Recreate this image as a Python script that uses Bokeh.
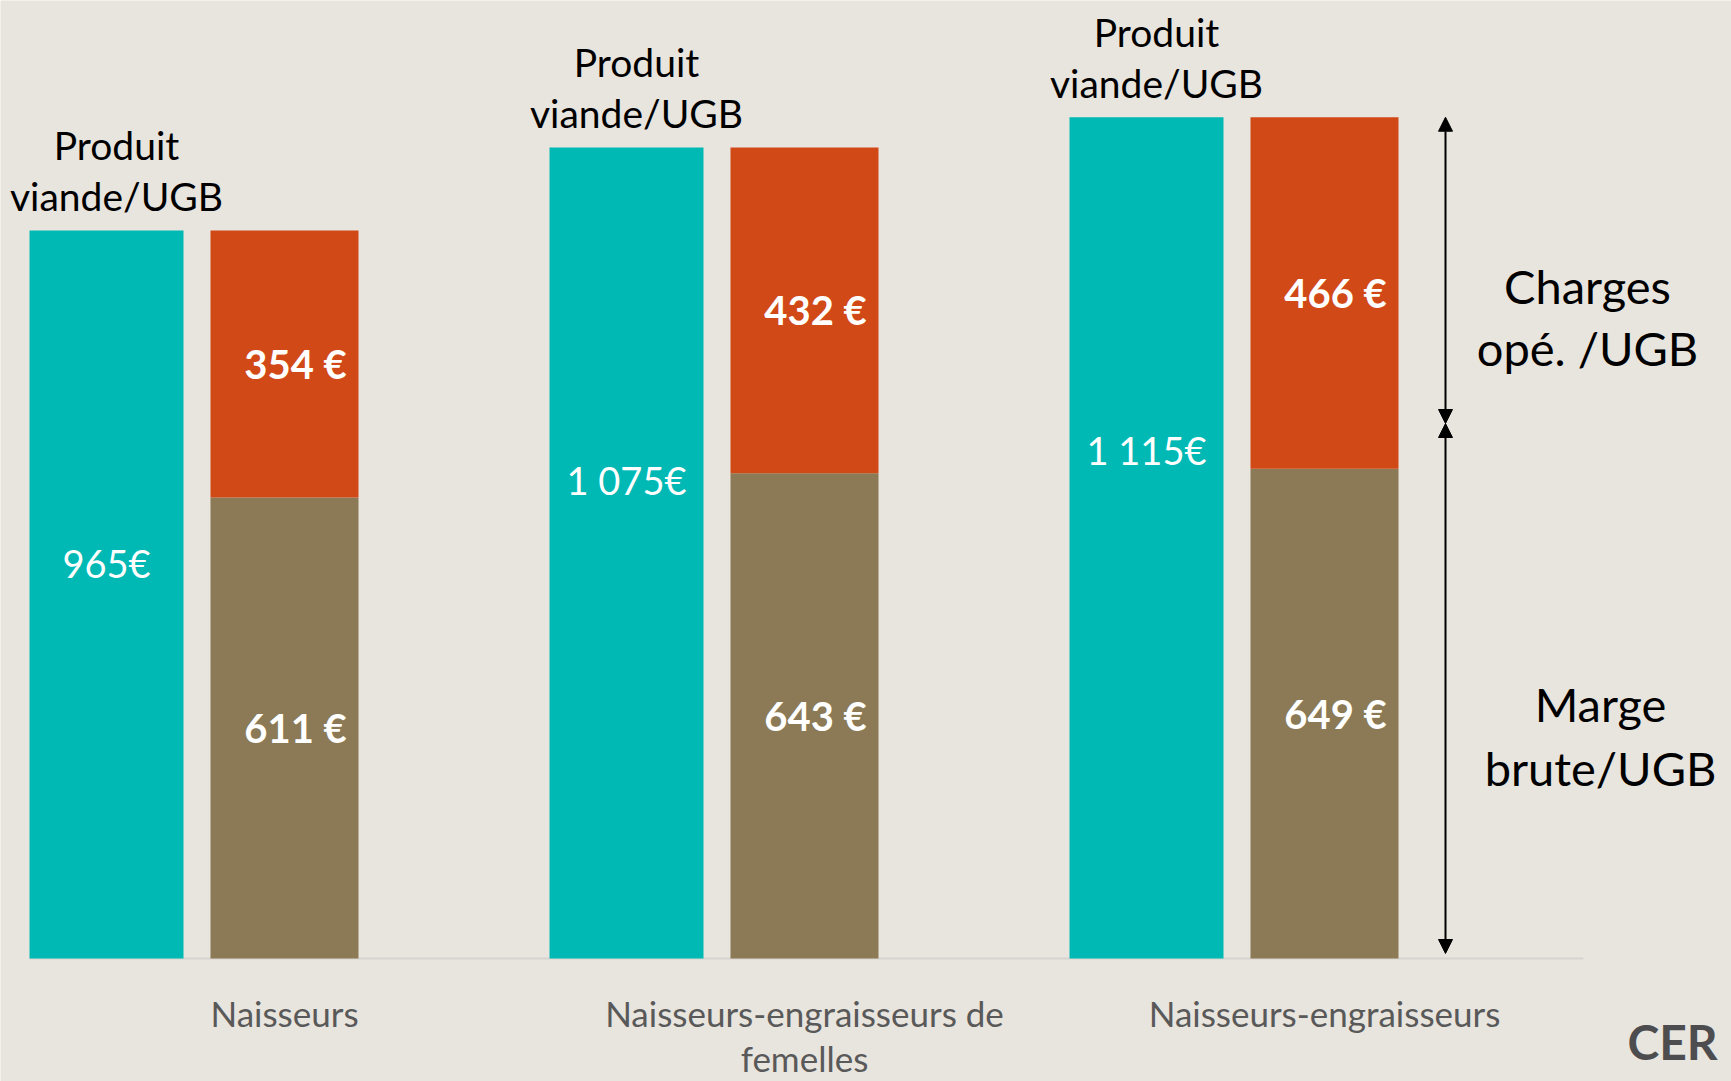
from bokeh.plotting import figure
from bokeh.models import Range1d, Arrow, NormalHead, ColumnDataSource
from bokeh.core.properties import value
from bokeh.embed import file_html
from bokeh.resources import INLINE

# ---------------- data ----------------
categories = ["Naisseurs", "Naisseurs-engraisseurs de femelles", "Naisseurs-engraisseurs"]
category_lines = [["Naisseurs"], ["Naisseurs-engraisseurs de", "femelles"], ["Naisseurs-engraisseurs"]]
produit_viande = [965, 1075, 1115]
marge_brute = [611, 643, 649]
charges_ope = [354, 432, 466]
produit_labels = ["965€", "1 075€", "1 115€"]
marge_labels = ["611 €", "643 €", "649 €"]
charges_labels = ["354 €", "432 €", "466 €"]
produit_title = ["Produit", "viande/UGB"]
charges_title = ["Charges", "opé. /UGB"]
marge_title = ["Marge", "brute/UGB"]
logo_text = "CER"

# ---------------- layout ----------------
W, H = 1731, 1081
PX_X = 520.0      # pixels per group
PX_Y = 0.7545     # pixels per euro
def dx(px): return px / PX_X
def dy(px): return px / PX_Y

x_start = -dx(106)
x_end = x_start + dx(W)
y_end = dy(958)
y_start = y_end - dy(H)

BG = "#E8E4DE"
TEAL = "#00B9B4"
RED = "#D24918"
BROWN = "#8B7A55"
FONT = value("Lato")

p = figure(width=W, height=H, output_backend="svg", toolbar_location=None,
           x_range=Range1d(x_start, x_end), y_range=Range1d(y_start, y_end),
           min_border=0, min_border_left=0, min_border_right=0,
           min_border_top=0, min_border_bottom=0)
p.axis.visible = False
p.grid.visible = False
p.outline_line_color = None
p.background_fill_color = BG
p.border_fill_color = BG

n = len(categories)
teal_x = [i for i in range(n)]
right_x = [i + dx(178) for i in range(n)]
stack_top = [m + c for m, c in zip(marge_brute, charges_ope)]

# baseline (category axis line)
p.line(x=[teal_x[0] - dx(77), right_x[-1] + dx(259)], y=[0, 0], line_color="#D6D4D0", line_width=2)

src = ColumnDataSource(dict(
    tx=teal_x, rx=right_x, produit=produit_viande, marge=marge_brute,
    charges=charges_ope, top=stack_top,
))
p.vbar(x="tx", top="produit", bottom=0, width=dx(154), source=src, fill_color=TEAL, line_color=None)
p.vbar(x="rx", top="marge", bottom=0, width=dx(148), source=src, fill_color=BROWN, line_color=None)
p.vbar(x="rx", top="top", bottom="marge", width=dx(148), source=src, fill_color=RED, line_color=None)

def txt(xs, ys, texts, size, color="black", style="normal", align="center"):
    p.text(x=xs, y=ys, text=texts, text_font=FONT, text_font_size=value(size),
           text_color=color, text_font_style=style, text_align=align,
           text_baseline="middle")

# titles above teal bars
txt([x + dx(10) for x in teal_x], [v + dy(85) for v in produit_viande], [produit_title[0]] * n, "39px")
txt([x + dx(10) for x in teal_x], [v + dy(34) for v in produit_viande], [produit_title[1]] * n, "39px")

# value labels
txt(teal_x, [v - dy(333) for v in produit_viande], produit_labels, "38px", color="white")
txt([x + dx(11) for x in right_x], [m + c / 2 for m, c in zip(marge_brute, charges_ope)],
    charges_labels, "40px", color="white", style="bold")
txt([x + dx(11) for x in right_x], [m / 2 for m in marge_brute],
    marge_labels, "40px", color="white", style="bold")

# category labels
for x, lines in zip(right_x, category_lines):
    txt([x] * len(lines), [-dy(54 + 45 * k) for k in range(len(lines))], lines, "35px", color="#595959")

# right-hand arrows
ax = right_x[-1] + dx(121)
split = dy(535)
top_v = produit_viande[-1]
for y0, y1 in [(split, top_v), (dy(5), split)]:
    p.add_layout(Arrow(x_start=ax, y_start=y0, x_end=ax, y_end=y1, line_width=2, line_color="black",
                       start=NormalHead(size=14, fill_color="black", line_color="black"),
                       end=NormalHead(size=14, fill_color="black", line_color="black")))

txt([ax + dx(142)] * 2, [dy(673), dy(611)], charges_title, "47px")
txt([ax + dx(155)] * 2, [dy(255), dy(191)], marge_title, "47px")

# partial logo
txt([ax + dx(182)], [-dy(83)], [logo_text], "48px", color="#4D4D4F", style="bold", align="left")

open("out.html", "w").write(file_html(p, INLINE))
